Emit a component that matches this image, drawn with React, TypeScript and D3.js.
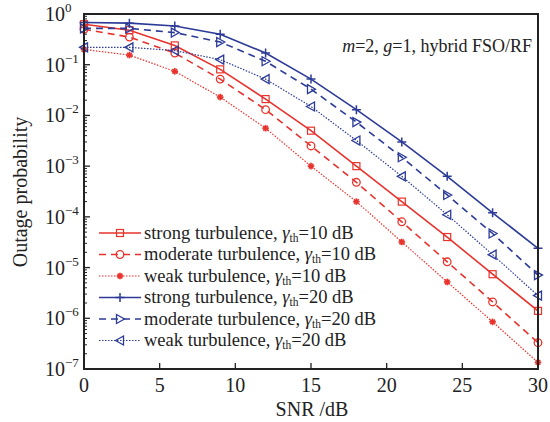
import React, { useRef, useEffect } from "react";
import * as d3 from "d3";

const snr = [0, 3, 6, 9, 12, 15, 18, 21, 24, 27, 30];

const strong10 = [0.63, 0.48, 0.24, 0.081, 0.021, 0.005, 1.0e-3, 2.0e-4, 4.0e-5, 7.4e-6, 1.4e-6];
const moderate10 = [0.5, 0.35, 0.17, 0.052, 0.013, 0.0025, 4.8e-4, 8.0e-5, 1.3e-5, 2.1e-6, 3.3e-7];
const weak10 = [0.2, 0.155, 0.074, 0.023, 0.0056, 1.0e-3, 2.0e-4, 3.2e-5, 5.2e-6, 8.5e-7, 1.35e-7];
const strong20 = [0.68, 0.66, 0.58, 0.4, 0.17, 0.052, 0.013, 0.003, 6.3e-4, 1.2e-4, 2.4e-5];
const moderate20 = [0.52, 0.52, 0.43, 0.28, 0.117, 0.033, 0.0074, 0.0015, 2.7e-4, 4.7e-5, 7.1e-6];
const weak20 = [0.22, 0.22, 0.19, 0.126, 0.052, 0.015, 0.0032, 6.3e-4, 1.1e-4, 1.8e-5, 2.8e-6];

const legendNames = [
  "strong turbulence, ",
  "moderate turbulence, ",
  "weak turbulence, ",
  "strong turbulence, ",
  "moderate turbulence, ",
  "weak turbulence, ",
];
const legendThresholds = ["=10 dB", "=10 dB", "=10 dB", "=20 dB", "=20 dB", "=20 dB"];

const xTicks = [0, 5, 10, 15, 20, 25, 30];
const yExponents = [0, -1, -2, -3, -4, -5, -6, -7];

const RED = "#e8332d";
const BLUE = "#2c3b97";
const FONT = "Liberation Serif";

const App = () => {
  const svgRef = useRef<SVGSVGElement>(null);
  const width = 550;
  const height = 422;
  const margin = { top: 14, right: 12, bottom: 53, left: 84 };

  useEffect(() => {
    const svg = d3.select(svgRef.current);
    svg.selectAll("*").remove();

    const x = d3.scaleLinear().domain([0, 30]).range([margin.left, width - margin.right]);
    const y = d3.scaleLog().domain([1e-7, 1]).range([height - margin.bottom, margin.top]);

    const series = [
      { values: strong10, color: RED, dash: null, marker: "square" },
      { values: moderate10, color: RED, dash: "7,5", marker: "circle" },
      { values: weak10, color: RED, dash: "1.5,1.5", marker: "star" },
      { values: strong20, color: BLUE, dash: null, marker: "plus" },
      { values: moderate20, color: BLUE, dash: "7,5", marker: "right" },
      { values: weak20, color: BLUE, dash: "1.5,1.5", marker: "left" },
    ];

    // draw a marker centred on (cx, cy)
    const drawMarker = (g: any, kind: string, cx: number, cy: number, color: string) => {
      if (kind === "square") {
        g.append("rect").attr("x", cx - 3.5).attr("y", cy - 3.5).attr("width", 7).attr("height", 7)
          .attr("fill", "none").attr("stroke", color).attr("stroke-width", 1.2);
      } else if (kind === "circle") {
        g.append("circle").attr("cx", cx).attr("cy", cy).attr("r", 3.8)
          .attr("fill", "none").attr("stroke", color).attr("stroke-width", 1.3);
      } else if (kind === "star") {
        const s = 3.3;
        [0, 45, 90, 135].forEach((a) => {
          const r = (a * Math.PI) / 180;
          g.append("line")
            .attr("x1", cx - s * Math.cos(r)).attr("y1", cy - s * Math.sin(r))
            .attr("x2", cx + s * Math.cos(r)).attr("y2", cy + s * Math.sin(r))
            .attr("stroke", color).attr("stroke-width", 1.7);
        });
      } else if (kind === "plus") {
        const s = 4.5;
        g.append("path").attr("d", `M${cx - s},${cy}H${cx + s}M${cx},${cy - s}V${cy + s}`)
          .attr("stroke", color).attr("stroke-width", 1.5).attr("fill", "none");
      } else if (kind === "right") {
        g.append("path").attr("d", `M${cx - 3.5},${cy - 4.5}L${cx + 4.5},${cy}L${cx - 3.5},${cy + 4.5}Z`)
          .attr("fill", "none").attr("stroke", color).attr("stroke-width", 1.3);
      } else if (kind === "left") {
        g.append("path").attr("d", `M${cx + 3.5},${cy - 4.5}L${cx - 4.5},${cy}L${cx + 3.5},${cy + 4.5}Z`)
          .attr("fill", "none").attr("stroke", color).attr("stroke-width", 1.3);
      }
    };

    // ticks on the left axis: decades + minor ones
    const axisG = svg.append("g");
    const minors: number[] = [];
    for (let e = -7; e < 0; e++) {
      for (let m = 2; m <= 9; m++) minors.push(m * Math.pow(10, e));
    }
    minors.forEach((v) => {
      axisG.append("line").attr("x1", margin.left).attr("x2", margin.left + 3)
        .attr("y1", y(v)).attr("y2", y(v)).attr("stroke", "#222").attr("stroke-width", 1);
    });
    yExponents.forEach((e) => {
      const yy = y(Math.pow(10, e));
      axisG.append("line").attr("x1", margin.left).attr("x2", margin.left + 6)
        .attr("y1", yy).attr("y2", yy).attr("stroke", "#222").attr("stroke-width", 1.3);
      const t = axisG.append("text").attr("x", margin.left - 39).attr("y", yy + 7)
        .attr("font-family", FONT).attr("font-size", 20).attr("fill", "#222");
      t.append("tspan").text("10");
      t.append("tspan").attr("font-size", 13).attr("dy", -9).text(e === 0 ? "0" : "\u2212" + Math.abs(e));
    });
    xTicks.forEach((v) => {
      axisG.append("line").attr("x1", x(v)).attr("x2", x(v))
        .attr("y1", y(1e-7)).attr("y2", y(1e-7) - 6).attr("stroke", "#222").attr("stroke-width", 1.3);
      axisG.append("text").attr("x", x(v)).attr("y", y(1e-7) + 23)
        .attr("text-anchor", "middle").attr("font-family", FONT).attr("font-size", 20).attr("fill", "#222")
        .text(v);
    });

    // series
    const lineGen = d3.line<number>()
      .x((_, i) => x(snr[i]))
      .y((d) => y(d));
    series.forEach((s) => {
      const g = svg.append("g");
      g.append("path").datum(s.values).attr("d", lineGen).attr("fill", "none")
        .attr("stroke", s.color).attr("stroke-width", s.dash === "1.5,1.5" ? 1.2 : 1.6)
        .attr("stroke-dasharray", s.dash);
      s.values.forEach((v, i) => drawMarker(g, s.marker, x(snr[i]), y(v), s.color));
    });

    // frame
    svg.append("rect").attr("x", margin.left).attr("y", margin.top)
      .attr("width", width - margin.left - margin.right).attr("height", height - margin.top - margin.bottom)
      .attr("fill", "none").attr("stroke", "#222").attr("stroke-width", 2);

    // legend
    const legend = svg.append("g");
    series.forEach((s, i) => {
      const ly = 233 + i * 21.5;
      legend.append("line").attr("x1", 99).attr("x2", 141).attr("y1", ly).attr("y2", ly)
        .attr("stroke", s.color).attr("stroke-width", s.dash === "1.5,1.5" ? 1.2 : 1.6)
        .attr("stroke-dasharray", s.dash);
      drawMarker(legend, s.marker, 120, ly, s.color);
      const t = legend.append("text").attr("x", 144).attr("y", ly + 5.5)
        .attr("font-family", FONT).attr("font-size", 18.5).attr("fill", "#222");
      t.append("tspan").text(legendNames[i]);
      t.append("tspan").attr("font-style", "italic").text("\u03b3");
      t.append("tspan").attr("font-size", 11.5).attr("dy", 3).text("th");
      t.append("tspan").attr("dy", -3).text(legendThresholds[i]);
    });

    // annotation
    const ann = svg.append("text").attr("x", 532).attr("y", 52).attr("text-anchor", "end")
      .attr("font-family", FONT).attr("font-size", 18).attr("fill", "#222");
    ann.append("tspan").attr("font-style", "italic").text("m");
    ann.append("tspan").text("=2, ");
    ann.append("tspan").attr("font-style", "italic").text("g");
    ann.append("tspan").text("=1, hybrid FSO/RF");

    // axis titles
    svg.append("text").attr("transform", `translate(27,192) rotate(-90)`)
      .attr("text-anchor", "middle").attr("font-family", FONT).attr("font-size", 20).attr("fill", "#222")
      .text("Outage probability");
    svg.append("text").attr("x", 312).attr("y", 416)
      .attr("text-anchor", "middle").attr("font-family", FONT).attr("font-size", 20).attr("fill", "#222")
      .text("SNR /dB");
  }, []);

  return (
    <svg ref={svgRef} width={width} height={height}
      style={{ position: "absolute", left: 0, top: 0, background: "white" }} />
  );
};

export default App;
